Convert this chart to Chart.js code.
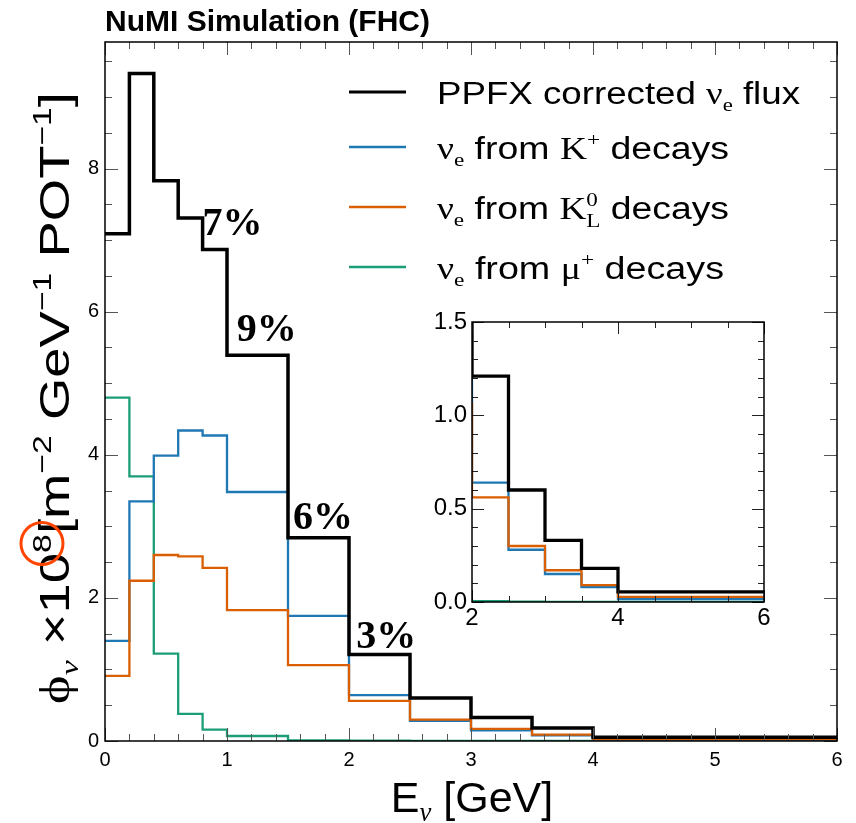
<!DOCTYPE html>
<html>
<head>
<meta charset="utf-8">
<script src="https://cdn.jsdelivr.net/npm/chart.js@4.4.0/dist/chart.umd.min.js"></script>
<style>
  html, body { margin: 0; padding: 0; background: #fff; }
  #wrap { position: relative; width: 856px; height: 823px; }
  #main { position: absolute; left: 0; top: 0; }
  #inset { position: absolute; left: 392px; top: 300px; }
</style>
</head>
<body>
<div id="wrap">
  <canvas id="main" width="856" height="823"></canvas>
  <canvas id="inset" width="400" height="340"></canvas>
</div>
<script>
// bin edges [GeV] and flux per bin (x 10^8 m^-2 GeV^-1 POT^-1)
const binEdges  = [0, 0.2, 0.4, 0.6, 0.8, 1.0, 1.5, 2.0, 2.5, 3.0, 3.5, 4.0, 6.0];
const totalFlux = [7.09, 9.33, 7.83, 7.31, 6.87, 5.39, 2.84, 1.21, 0.60, 0.33, 0.18, 0.054];
const kaonPlus  = [1.40, 3.35, 3.99, 4.34, 4.27, 3.48, 1.75, 0.64, 0.28, 0.15, 0.08, 0.016];
const kaonLong  = [0.91, 2.24, 2.60, 2.58, 2.42, 1.83, 1.06, 0.56, 0.30, 0.17, 0.09, 0.027];
const muonPlus  = [4.80, 3.70, 1.22, 0.38, 0.16, 0.07, 0.01, 0.004, 0.002, 0.001, 0.001, 0.001];

const seriesNames  = ['PPFX corrected νe flux', 'νe from K+ decays', 'νe from K0L decays', 'νe from μ+ decays'];
const seriesColors = ['#000000', '#1f78b4', '#d95f02', '#1b9e77'];

const xTicks = [0, 1, 2, 3, 4, 5, 6];
const yTicks = [0, 2, 4, 6, 8];
const insetXTicks = [2, 4, 6];
const insetYTicks = [0, 0.5, 1.0, 1.5];

// flux uncertainty labels, anchored in data coords
const uncertText = ['7%', '9%', '6%', '3%'];
const uncertX = [0.80, 1.08, 1.54, 2.06];
const uncertY = [7.07, 5.59, 2.97, 1.30];

const SANS = '"Liberation Sans", Arial, Helvetica, sans-serif';
const SERIF = '"Liberation Serif", "Times New Roman", serif';

// histogram -> points at bin edges, drawn with stepped lines
function histPoints(vals) {
    const pts = vals.map((v, i) => ({ x: binEdges[i], y: v }));
    pts.push({ x: binEdges[binEdges.length - 1], y: vals[vals.length - 1] });
    return pts;
}

function makeDatasets(blackWidth, colWidth) {
    const series = [totalFlux, kaonPlus, kaonLong, muonPlus];
    return series.map((vals, i) => ({
        label: seriesNames[i],
        data: histPoints(vals),
        borderColor: seriesColors[i],
        borderWidth: i === 0 ? blackWidth : colWidth,
        stepped: 'before',
        pointRadius: 0,
        fill: false,
        clip: 0,
        order: [0, 2, 1, 3][i]
    }));
}

// rich text: segments with sub/superscripts
function richText(ctx, segs, x, y, size, draw) {
    let cx = x;
    const marks = [];
    for (const s of segs) {
        const small = s.sup || s.sub || s.stack;
        const fs = small ? size * 0.62 : size;
        ctx.font = (s.it ? 'italic ' : '') + fs + 'px ' + (s.serif ? SERIF : SANS);
        if (s.stack) {
            const w = Math.max(ctx.measureText(s.stack[0]).width, ctx.measureText(s.stack[1]).width);
            if (draw) {
                ctx.fillText(s.stack[0], cx, y - 0.42 * size);
                ctx.fillText(s.stack[1], cx, y + 0.25 * size);
            }
            cx += w;
            continue;
        }
        const dy = s.sup ? -0.42 * size : s.sub ? 0.22 * size : 0;
        const w = ctx.measureText(s.t).width;
        if (draw) ctx.fillText(s.t, cx, y + dy);
        if (s.mark) marks.push({ x: cx + w / 2, y: y + dy - fs * 0.36 });
        cx += w;
    }
    return { width: cx - x, marks };
}

const legendSegs = [
    [{ t: 'PPFX corrected ' }, { t: 'ν', serif: true }, { t: 'e', serif: true, sub: true }, { t: ' flux' }],
    [{ t: 'ν', serif: true }, { t: 'e', serif: true, sub: true }, { t: ' from ' }, { t: 'K', serif: true }, { t: '+', serif: true, sup: true }, { t: ' decays' }],
    [{ t: 'ν', serif: true }, { t: 'e', serif: true, sub: true }, { t: ' from ' }, { t: 'K', serif: true }, { stack: ['0', 'L'], serif: true }, { t: ' decays' }],
    [{ t: 'ν', serif: true }, { t: 'e', serif: true, sub: true }, { t: ' from ' }, { t: 'μ', serif: true }, { t: '+', serif: true, sup: true }, { t: ' decays' }]
];

const yTitleSegs = [
    { t: 'ϕ', serif: true }, { t: 'ν', serif: true, it: true, sub: true }, { t: ' ×10' }, { t: '8', sup: true, mark: true },
    { t: '[m' }, { t: '−2', sup: true }, { t: ' GeV' }, { t: '−1', sup: true }, { t: ' POT' }, { t: '−1', sup: true }, { t: ']' }
];

const xTitleSegs = [{ t: 'E' }, { t: 'ν', serif: true, it: true, sub: true }, { t: ' [GeV]' }];

// ROOT-style frame with inward ticks on all four sides
const frameTicks = {
    id: 'frameTicks',
    afterDatasetsDraw(chart, args, o) {
        const { ctx, chartArea: a, scales: { x, y } } = chart;
        ctx.save();
        ctx.strokeStyle = o.tickColor;
        ctx.lineWidth = 1;
        ctx.beginPath();
        const nx = Math.round((x.max - x.min) / o.xMinor);
        for (let i = 0; i <= nx; i++) {
            const v = x.min + i * o.xMinor;
            const r = (v - x.min) / o.xMajor;
            const len = Math.abs(r - Math.round(r)) < 1e-6 ? o.major : o.minor;
            const px = Math.round(x.getPixelForValue(v)) + 0.5;
            ctx.moveTo(px, a.bottom); ctx.lineTo(px, a.bottom - len);
            ctx.moveTo(px, a.top); ctx.lineTo(px, a.top + len);
        }
        const ny = Math.floor((y.max - y.min) / o.yMinor + 1e-6);
        for (let i = 0; i <= ny; i++) {
            const v = y.min + i * o.yMinor;
            const r = (v - y.min) / o.yMajor;
            const len = Math.abs(r - Math.round(r)) < 1e-6 ? o.major : o.minor;
            const py = Math.round(y.getPixelForValue(v)) + 0.5;
            ctx.moveTo(a.left, py); ctx.lineTo(a.left + len, py);
            ctx.moveTo(a.right, py); ctx.lineTo(a.right - len, py);
        }
        ctx.stroke();
        ctx.strokeStyle = '#000';
        ctx.lineWidth = o.frameWidth;
        ctx.strokeRect(a.left, a.top, a.right - a.left, a.bottom - a.top);
        ctx.restore();
    }
};

// title, legend, axis titles and the uncertainty labels of the main plot
const decor = {
    id: 'decor',
    afterDraw(chart) {
        const { ctx, scales: { x, y } } = chart;
        ctx.save();
        ctx.fillStyle = '#000';
        ctx.textBaseline = 'alphabetic';
        ctx.textAlign = 'left';

        ctx.font = 'bold 30px ' + SANS;
        ctx.fillText('NuMI Simulation (FHC)', 105, 31);

        // legend
        const rows = [92, 147, 207, 267];
        const targets = [363, 292, 292, 287];
        rows.forEach((ry, i) => {
            ctx.strokeStyle = seriesColors[i];
            ctx.lineWidth = i === 0 ? 3.2 : 2.3;
            ctx.beginPath();
            ctx.moveTo(349, ry); ctx.lineTo(406, ry);
            ctx.stroke();
            const w = richText(ctx, legendSegs[i], 0, 0, 31, false).width;
            ctx.save();
            ctx.translate(437, ry + 12);
            ctx.scale(targets[i] / w, 1);
            richText(ctx, legendSegs[i], 0, 0, 31, true);
            ctx.restore();
        });

        // uncertainty labels
        ctx.font = 'bold 40px ' + SERIF;
        uncertText.forEach((t, i) => {
            ctx.fillText(t, x.getPixelForValue(uncertX[i]), y.getPixelForValue(uncertY[i]));
        });

        // x title
        const xw = richText(ctx, xTitleSegs, 0, 0, 43, false).width;
        richText(ctx, xTitleSegs, 472 - xw / 2, 812, 43, true);

        // y title, rotated, with the exponent circled
        ctx.save();
        ctx.translate(69, 704);
        ctx.rotate(-Math.PI / 2);
        const yw = richText(ctx, yTitleSegs, 0, 0, 42, false).width;
        const k = 612 / yw;
        ctx.save();
        ctx.scale(k, 1);
        const m = richText(ctx, yTitleSegs, 0, 0, 42, true).marks[0];
        ctx.restore();
        ctx.strokeStyle = '#ff4500';
        ctx.lineWidth = 3;
        ctx.beginPath();
        ctx.arc(m.x * k, m.y, 21, 0, Math.PI * 2);
        ctx.stroke();
        ctx.restore();

        ctx.restore();
    }
};

Chart.defaults.font.family = SANS;
Chart.defaults.color = '#000';

new Chart(document.getElementById('main'), {
    type: 'line',
    data: { datasets: makeDatasets(3.5, 2.3) },
    options: {
        responsive: false,
        animation: false,
        devicePixelRatio: 1,
        layout: { padding: { left: 0, top: 42, right: 19, bottom: 0 } },
        plugins: {
            legend: { display: false },
            tooltip: { enabled: false },
            frameTicks: { tickColor: '#555', major: 13, minor: 7, xMajor: 1, xMinor: 0.2, yMajor: 2, yMinor: 0.5, frameWidth: 1.5 }
        },
        scales: {
            x: {
                type: 'linear', min: 0, max: 6,
                afterBuildTicks: s => { s.ticks = xTicks.map(v => ({ value: v })); },
                afterFit: s => { s.height = 82; },
                grid: { display: false, drawTicks: false },
                border: { display: false },
                ticks: { font: { size: 20 }, padding: 7, maxRotation: 0, autoSkip: false, callback: v => String(v) }
            },
            y: {
                type: 'linear', min: 0, max: 9.77,
                afterBuildTicks: s => { s.ticks = yTicks.map(v => ({ value: v })); },
                afterFit: s => { s.width = 105; },
                grid: { display: false, drawTicks: false },
                border: { display: false },
                ticks: { font: { size: 20 }, padding: 6, autoSkip: false, callback: v => String(v) }
            }
        }
    },
    plugins: [frameTicks, decor]
});

new Chart(document.getElementById('inset'), {
    type: 'line',
    data: { datasets: makeDatasets(3.3, 2.3) },
    options: {
        responsive: false,
        animation: false,
        devicePixelRatio: 1,
        layout: { padding: { left: 0, top: 22, right: 28, bottom: 0 } },
        plugins: {
            legend: { display: false },
            tooltip: { enabled: false },
            frameTicks: { tickColor: '#222', major: 12, minor: 6, xMajor: 2, xMinor: 0.5, yMajor: 0.5, yMinor: 0.1, frameWidth: 1.5 }
        },
        scales: {
            x: {
                type: 'linear', min: 2, max: 6,
                afterBuildTicks: s => { s.ticks = insetXTicks.map(v => ({ value: v })); },
                afterFit: s => { s.height = 38; },
                grid: { display: false, drawTicks: false },
                border: { display: false },
                ticks: { font: { size: 24 }, padding: 2, maxRotation: 0, autoSkip: false, callback: v => String(v) }
            },
            y: {
                type: 'linear', min: 0, max: 1.5,
                afterBuildTicks: s => { s.ticks = insetYTicks.map(v => ({ value: v })); },
                afterFit: s => { s.width = 80; },
                grid: { display: false, drawTicks: false },
                border: { display: false },
                ticks: { font: { size: 24 }, padding: 5, autoSkip: false, callback: v => v.toFixed(1) }
            }
        }
    },
    plugins: [frameTicks]
});
</script>
</body>
</html>
